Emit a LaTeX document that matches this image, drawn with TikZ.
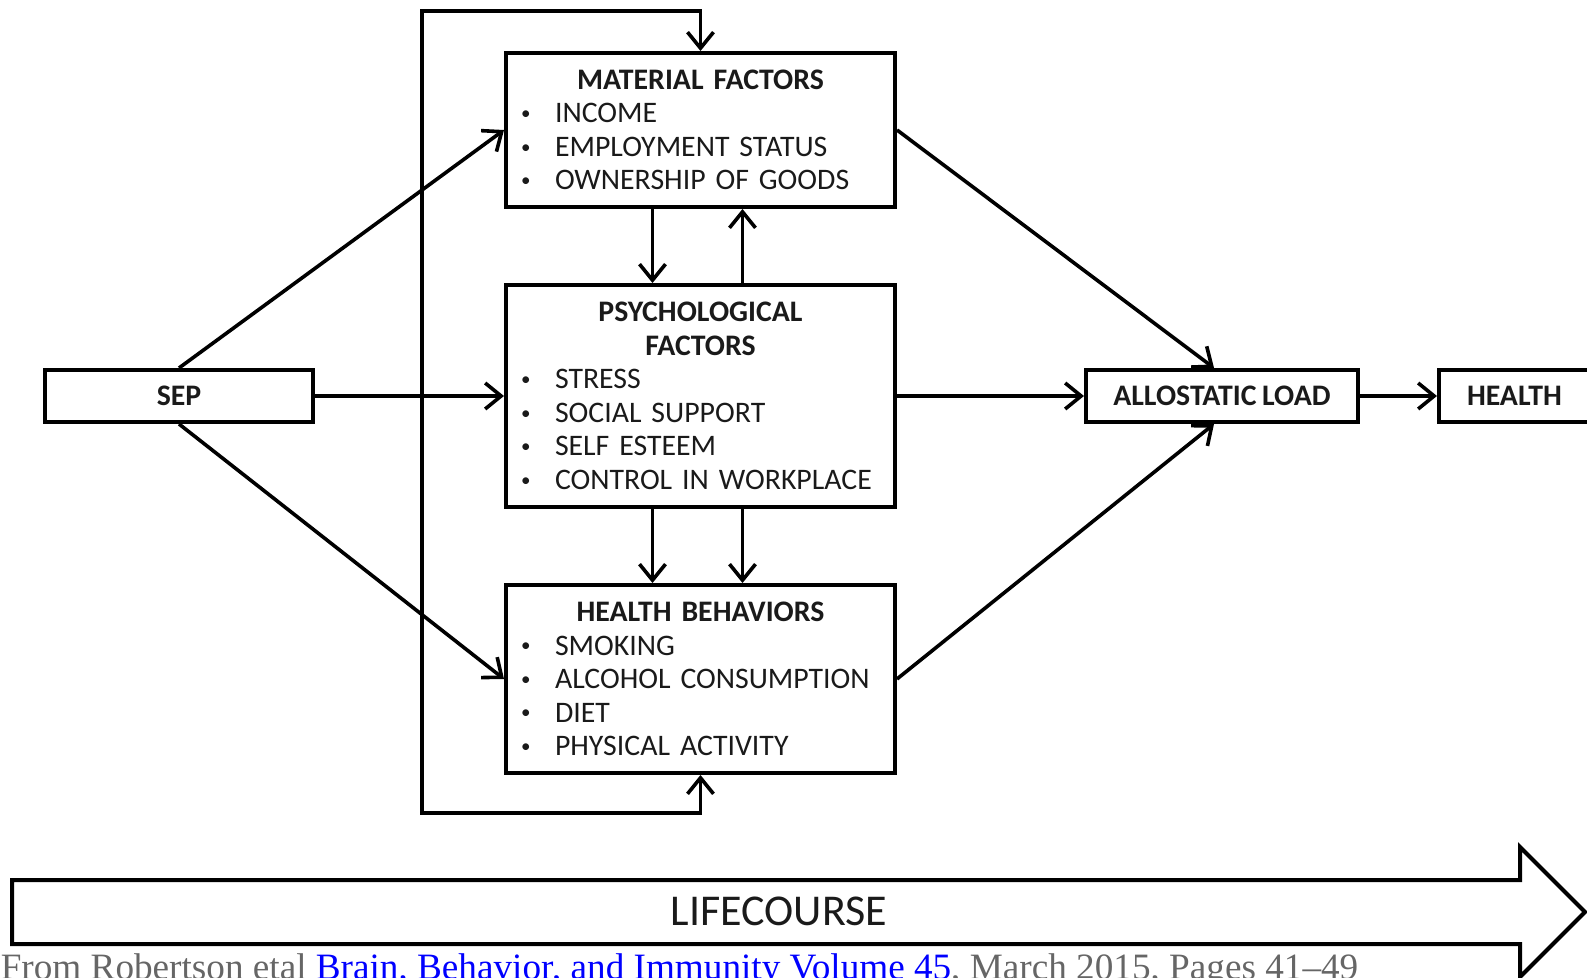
\documentclass[tikz,border=0pt]{standalone}
\usepackage{fontspec}
\setmainfont{Carlito}[WordSpace=0.8]
\newfontfamily\capfont{Liberation Serif}
\usetikzlibrary{arrows.meta}
\definecolor{capgray}{HTML}{666666}
\definecolor{linkblue}{HTML}{0000FF}
\definecolor{boxtext}{HTML}{1A1A1A}
\newcommand{\fitem}[1]{\makebox[17pt][l]{\raisebox{1.6pt}{\fontsize{9.5pt}{9.5pt}\selectfont\textbullet}}#1}
\newcommand{\ftitle}[1]{\makebox[\hsize][c]{\bfseries #1}}

\begin{document}
\begin{tikzpicture}[x=0.5pt,y=-0.5pt,line width=1.8pt,
  fbox/.style={draw,line width=2pt,align=left,inner xsep=7.5pt,text width=179.5pt,
    minimum width=194.5pt,text=boxtext,font=\fontsize{14.9pt}{16.75pt}\selectfont},
  sbox/.style={draw,line width=2pt,minimum height=26pt,text=boxtext,
    font=\fontsize{14.9pt}{16.75pt}\selectfont\bfseries},
  flow/.style={-{Straight Barb[length=8pt,width=13pt]}}]
      \useasboundingbox (0,0) rectangle (1587,978);
      \clip (0,0) rectangle (1587,978);
      \node[fbox,minimum height=77pt] (mat) at (700.5,130)
        {\ftitle{MATERIAL FACTORS}\\ \fitem{INCOME}\\ \fitem{EMPLOYMENT STATUS}\\
         \fitem{OWNERSHIP OF GOODS}};
      \node[fbox,minimum height=111pt] (psy) at (700.5,396)
        {\ftitle{PSYCHOLOGICAL}\\ \ftitle{FACTORS}\\ \fitem{STRESS}\\ \fitem{SOCIAL SUPPORT}\\
         \fitem{SELF ESTEEM}\\ \fitem{CONTROL IN WORKPLACE}};
      \node[fbox,minimum height=94pt] (hb) at (700.5,679)
        {\ftitle{HEALTH BEHAVIORS}\\ \fitem{SMOKING}\\ \fitem{ALCOHOL CONSUMPTION}\\
         \fitem{DIET}\\ \fitem{PHYSICAL ACTIVITY}};
      \node[sbox,minimum width=134pt] (sep) at (179,396) {SEP};
      \node[sbox,minimum width=136pt] (al) at (1222,396) {ALLOSTATIC LOAD};
      \node[sbox,minimum width=75.5pt] (health) at (1514.5,396) {HEALTH};
      \coordinate (lptop) at (422,11);
      \coordinate (lpbot) at (422,813);
      \draw[flow] (sep.north) -- (mat.west);
      \draw[flow] (sep.east) -- (psy.west);
      \draw[flow] (sep.south) -- (hb.west);
      \draw[flow] (mat.east) -- ([xshift=-4pt]al.north);
      \draw[flow] (psy.east) -- (al.west);
      \draw[flow] (hb.east) -- ([xshift=-4pt]al.south);
      \draw[flow] (al.east) -- (health.west);
      \draw[flow] ([xshift=-24pt]mat.south) -- ([xshift=-24pt]psy.north);
      \draw[flow] ([xshift=21pt]psy.north) -- ([xshift=21pt]mat.south);
      \draw[flow] ([xshift=-24pt]psy.south) -- ([xshift=-24pt]hb.north);
      \draw[flow] ([xshift=21pt]psy.south) -- ([xshift=21pt]hb.north);
      \draw[{Straight Barb[length=8pt,width=13pt]}-{Straight Barb[length=8pt,width=13pt]}]
        (hb.south) |- (lpbot) -- (lptop) -| (mat.north);
      \draw[line width=2pt,line join=miter] (12,880) -- (1520,880) -- (1520,847) -- (1585,912)
        -- (1520,977) -- (1520,944) -- (12,944) -- cycle;
      \node[font=\fontsize{22pt}{22pt}\selectfont,text=boxtext] (life) at (779,911) {LIFECOURSE};
      \node[anchor=base west,inner sep=0pt,text=capgray,font=\capfont\fontsize{18.6pt}{18.6pt}\selectfont]
        (cap) at (-1,979) {From Robertson etal \textcolor{linkblue}{Brain, Behavior, and Immunity Volume 45}, March 2015, Pages 41–49};
     \end{tikzpicture}
\end{document}
